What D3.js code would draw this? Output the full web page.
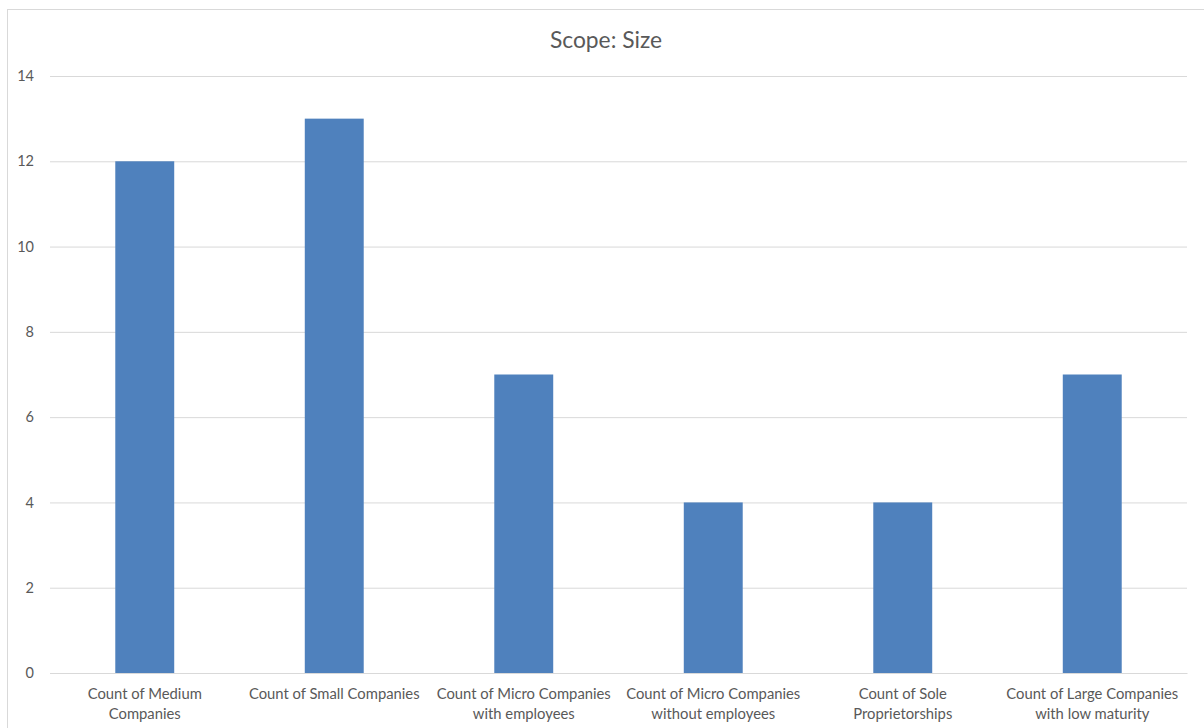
<!DOCTYPE html>
<html>
<head>
<meta charset="utf-8">
<script src="https://cdn.jsdelivr.net/npm/d3@7"></script>
<style>
  html, body { margin: 0; padding: 0; background: #fff; }
  svg { display: block; }
  text { font-family: "Lato", "Open Sans", sans-serif; fill: #595959; }
</style>
</head>
<body>
<svg id="chart" width="1204" height="728"></svg>
<script>
const categories = [
  "Count of Medium\nCompanies",
  "Count of Small Companies",
  "Count of Micro Companies\nwith employees",
  "Count of Micro Companies\nwithout employees",
  "Count of Sole\nProprietorships",
  "Count of Large Companies\nwith low maturity"
];
const values = [12, 13, 7, 4, 4, 7];
const yTicks = [0, 2, 4, 6, 8, 10, 12, 14];
const title = "Scope: Size";

const svg = d3.select("#chart");
const W = 1204, H = 728;
const margin = { left: 50, right: 17, top: 76, bottom: 55 };
const plotBottom = 673;

svg.append("rect")
  .attr("x", 7.5).attr("y", 9.5)
  .attr("width", W + 10).attr("height", H + 10)
  .attr("fill", "#fff").attr("stroke", "#d9d9d9").attr("stroke-width", 1);

const x = d3.scaleBand()
  .domain(categories)
  .range([margin.left, W - margin.right])
  .paddingInner(0.689)
  .paddingOuter(0.3445);

const y = d3.scaleLinear()
  .domain([0, 14])
  .range([plotBottom, margin.top]);

// gridlines
const grid = svg.append("g")
  .attr("transform", `translate(${margin.left},0)`)
  .call(d3.axisLeft(y).tickValues(yTicks).tickSize(-(W - margin.right - margin.left)).tickFormat(""));
grid.select(".domain").remove();
grid.selectAll("line").attr("stroke", "#d9d9d9").attr("stroke-width", 1);

// y labels
const yAxis = svg.append("g")
  .attr("transform", `translate(${margin.left},0)`)
  .call(d3.axisLeft(y).tickValues(yTicks).tickSize(0).tickPadding(16));
yAxis.select(".domain").remove();
yAxis.selectAll("text")
  .style("font-size", "14.5px")
  .attr("fill", "#595959")
  .attr("text-anchor", "end");

// bars
svg.append("g").selectAll("rect")
  .data(values)
  .join("rect")
  .attr("x", (d, i) => x(categories[i]))
  .attr("y", d => y(d))
  .attr("width", x.bandwidth())
  .attr("height", d => y(0) - y(d))
  .attr("fill", "#4f81bd");

// x labels
const xAxis = svg.append("g")
  .attr("transform", `translate(0,${plotBottom})`)
  .call(d3.axisBottom(x).tickSize(0).tickFormat(""));
xAxis.select(".domain").attr("stroke", "#d9d9d9");
xAxis.selectAll(".tick").each(function(d) {
  const t = d3.select(this).append("text")
    .attr("text-anchor", "middle")
    .attr("fill", "#595959")
    .style("font-size", "14.8px");
  d.split("\n").forEach((line, i) => {
    t.append("tspan").attr("x", 0).attr("y", 26 + i * 20).text(line);
  });
});

// title
svg.append("text")
  .attr("x", 606).attr("y", 48)
  .attr("text-anchor", "middle")
  .style("font-size", "22.8px")
  .text(title);
</script>
</body>
</html>
